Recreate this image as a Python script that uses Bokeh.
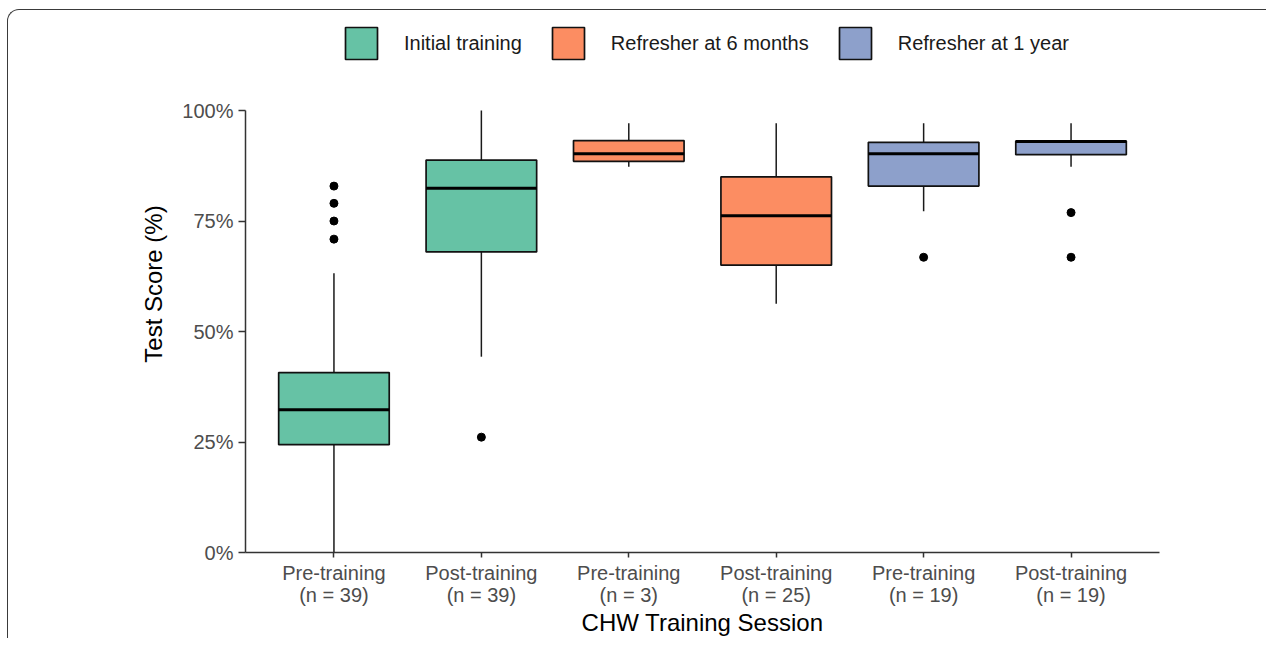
from bokeh.plotting import figure
from bokeh.models import Range1d, FixedTicker, Legend, LegendItem, ColumnDataSource, InlineStyleSheet
from bokeh.embed import file_html
from bokeh.resources import INLINE

# ---- data ----
sessions = ["Pre-training", "Post-training", "Pre-training", "Post-training", "Pre-training", "Post-training"]
n_sizes = [39, 39, 3, 25, 19, 19]
box_group = ["Initial training", "Initial training",
             "Refresher at 6 months", "Refresher at 6 months",
             "Refresher at 1 year", "Refresher at 1 year"]
group_names = ["Initial training", "Refresher at 6 months", "Refresher at 1 year"]
group_colors = ["#66C2A5", "#FC8D62", "#8DA0CB"]

whisker_low = [0.0, 44.3, 87.3, 56.3, 77.2, 87.3]
q1 = [24.4, 68.0, 88.5, 65.0, 82.9, 90.0]
median = [32.3, 82.4, 90.2, 76.2, 90.2, 93.0]
q3 = [40.7, 88.8, 93.2, 85.0, 92.8, 93.1]
whisker_high = [63.2, 100.0, 97.1, 97.1, 97.1, 97.1]

outlier_box = [1, 1, 1, 1, 2, 5, 6, 6]
outlier_score = [82.9, 79.0, 75.0, 70.9, 26.1, 66.8, 76.9, 66.8]

y_ticks = [0, 25, 50, 75, 100]
y_tick_labels = ["0%", "25%", "50%", "75%", "100%"]

# ---- figure ----
FONT = "Liberation Sans"
BOX_W = 0.75
positions = list(range(1, len(sessions) + 1))

# plot area reaches up to the legend row; the y axis line is bounded to 0-100
p = figure(width=1266, height=638, output_backend="svg", toolbar_location=None,
           x_range=Range1d(0.4, 6.6), y_range=Range1d(0, 121.5),
           min_border_left=245, min_border_right=107,
           min_border_top=15, min_border_bottom=86)
p.background_fill_color = "white"
p.border_fill_color = "white"
p.outline_line_color = None
p.grid.visible = False

# rounded frame line around the figure (only top-left part is in view)
p.stylesheets = [InlineStyleSheet(css="""
:host { position: relative; overflow: hidden; }
:host::after {
  content: ""; position: absolute; left: 7px; top: 9px;
  width: 3000px; height: 3000px; box-sizing: border-box;
  border-left: 1.5px solid #3a3a3a; border-top: 1.5px solid #3a3a3a;
  border-top-left-radius: 12px; pointer-events: none;
}
""")]

src = ColumnDataSource(dict(
    x=positions, lo=whisker_low, q1=q1, med=median, q3=q3, hi=whisker_high,
    left=[x - BOX_W / 2 for x in positions], right=[x + BOX_W / 2 for x in positions],
))

# whiskers
p.segment(x0="x", x1="x", y0="q3", y1="hi", source=src, line_color="#1a1a1a", line_width=1.5)
p.segment(x0="x", x1="x", y0="lo", y1="q1", source=src, line_color="#1a1a1a", line_width=1.5)

# boxes, one renderer per group (for legend)
legend_items = []
for g, c in zip(group_names, group_colors):
    idx = [i for i, bg in enumerate(box_group) if bg == g]
    gsrc = ColumnDataSource(dict(x=[positions[i] for i in idx],
                                 q1=[q1[i] for i in idx], q3=[q3[i] for i in idx]))
    r = p.vbar(x="x", top="q3", bottom="q1", width=BOX_W, source=gsrc,
               fill_color=c, line_color="#111111", line_width=1.7)
    legend_items.append(LegendItem(label=g, renderers=[r]))

# medians
p.segment(x0="left", x1="right", y0="med", y1="med", source=src, line_color="black", line_width=3)

# outliers
p.scatter(x=outlier_box, y=outlier_score, size=8, color="black")

# ---- axes ----
p.xaxis.ticker = FixedTicker(ticks=positions)
p.xaxis.major_label_overrides = {x: f"{s}\n(n = {n})" for x, s, n in zip(positions, sessions, n_sizes)}
p.yaxis.ticker = FixedTicker(ticks=y_ticks)
p.yaxis.major_label_overrides = dict(zip(y_ticks, y_tick_labels))
p.yaxis.bounds = (0, 100)

for ax in (p.xaxis, p.yaxis):
    ax.axis_line_color = "#333333"
    ax.axis_line_width = 1.5
    ax.major_tick_line_color = "#333333"
    ax.major_tick_line_width = 1.5
    ax.major_tick_in = 0
    ax.minor_tick_line_color = None
    ax.major_label_text_font = FONT
    ax.major_label_text_font_size = "20px"
    ax.major_label_text_color = "#4d4d4d"
    ax.axis_label_text_font = FONT
    ax.axis_label_text_font_size = "24px"
    ax.axis_label_text_font_style = "normal"
    ax.axis_label_text_color = "black"

p.xaxis.major_tick_out = 5
p.xaxis.major_label_standoff = 4
p.xaxis.major_label_text_line_height = 1.0
p.xaxis.axis_label = "CHW Training Session"
p.xaxis.axis_label_standoff = 0

p.yaxis.major_tick_out = 7
p.yaxis.major_label_standoff = 5
p.yaxis.axis_label = "Test Score (%)"
p.yaxis.axis_label_standoff = 12

# ---- legend (top row, inside the tall plot area) ----
legend = Legend(items=legend_items, orientation="horizontal", location=(96, 489),
                glyph_width=40, glyph_height=40, label_standoff=23, spacing=26,
                padding=0, margin=0, border_line_color=None, background_fill_alpha=0,
                label_text_font=FONT, label_text_font_size="20px", label_text_color="#1a1a1a")
p.add_layout(legend, "center")

open("out.html", "w").write(file_html(p, INLINE))
